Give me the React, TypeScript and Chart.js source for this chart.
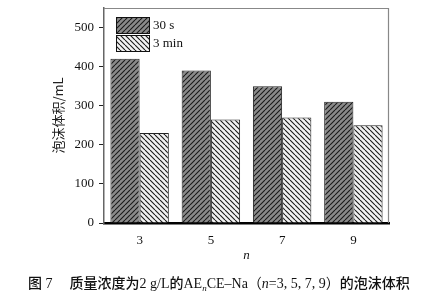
import React, { useEffect, useRef } from "react";
import { Chart, registerables } from "chart.js";

Chart.register(...registerables);

const categories = ["3", "5", "7", "9"];
const series30s = [420, 390, 350, 310];
const series3min = [230, 265, 270, 250];
const seriesLabels = ["30 s", "3 min"];
const yTicks = [0, 100, 200, 300, 400, 500];

const SERIF = "'Liberation Serif', 'Times New Roman', 'Noto Sans CJK SC', serif";
const CJK = "'Noto Sans CJK SC', sans-serif";

function makePattern(bg: string, dir: number, lw: number): CanvasPattern | string {
  const size = 5;
  const c = document.createElement("canvas");
  c.width = size;
  c.height = size;
  const g = c.getContext("2d");
  if (!g) return bg;
  g.fillStyle = bg;
  g.fillRect(0, 0, size, size);
  g.strokeStyle = "#1a1a1a";
  g.lineWidth = lw;
  g.beginPath();
  if (dir > 0) {
    for (let k = -1; k <= 1; k++) {
      g.moveTo(k * size, size);
      g.lineTo(k * size + size, 0);
    }
  } else {
    for (let k = -1; k <= 1; k++) {
      g.moveTo(k * size, 0);
      g.lineTo(k * size + size, size);
    }
  }
  g.stroke();
  const p = g.createPattern(c, "repeat");
  return p || bg;
}

export default function App() {
  const ref = useRef<HTMLCanvasElement | null>(null);

  useEffect(() => {
    document.body.style.margin = "0";
    const canvas = ref.current;
    if (!canvas) return;
    const pDark = makePattern("#8a8a8a", 1, 1.1);
    const pLight = makePattern("#f2f2f2", -1, 1.1);

    const legendPlugin = {
      id: "boxLegend",
      afterDraw(chart: any) {
        const ctx = chart.ctx;
        const area = chart.chartArea;
        const x = area.left + 12;
        const fills = [pDark, pLight];
        ctx.save();
        for (let i = 0; i < 2; i++) {
          const y = area.top + 9 + i * 18;
          ctx.fillStyle = fills[i];
          ctx.fillRect(x, y, 33, 16);
          ctx.strokeStyle = "#111";
          ctx.lineWidth = 1;
          ctx.strokeRect(x + 0.5, y + 0.5, 33, 16);
          ctx.fillStyle = "#111";
          ctx.font = "13px " + SERIF;
          ctx.textBaseline = "middle";
          ctx.textAlign = "left";
          ctx.fillText(seriesLabels[i], x + 37, y + 9);
        }
        ctx.strokeStyle = "#888";
        ctx.lineWidth = 1.2;
        ctx.beginPath();
        ctx.moveTo(area.left, area.top + 0.5);
        ctx.lineTo(area.right - 0.5, area.top + 0.5);
        ctx.lineTo(area.right - 0.5, area.bottom);
        ctx.stroke();
        ctx.restore();
      },
    };

    const chart = new Chart(canvas, {
      type: "bar",
      data: {
        labels: categories,
        datasets: [
          {
            label: seriesLabels[0],
            data: series30s,
            backgroundColor: pDark as any,
            borderColor: "#222",
            borderWidth: 1,
            categoryPercentage: 0.82,
            barPercentage: 1.0,
          },
          {
            label: seriesLabels[1],
            data: series3min,
            backgroundColor: pLight as any,
            borderColor: "#222",
            borderWidth: 1,
            categoryPercentage: 0.82,
            barPercentage: 1.0,
          },
        ],
      },
      options: {
        animation: false,
        responsive: false,
        maintainAspectRatio: false,
        layout: { padding: { left: 0, right: 59, top: 8, bottom: 34 } },
        plugins: {
          legend: { display: false },
          tooltip: { enabled: false },
        },
        scales: {
          x: {
            grid: {
              display: false,
              drawTicks: false,
            },
            border: { display: true, color: "#000", width: 2.5 },
            ticks: {
              color: "#111",
              font: { family: SERIF, size: 13 },
              padding: 10,
            },
            title: {
              display: true,
              text: "n",
              color: "#111",
              font: { family: SERIF, size: 13, style: "italic" },
              padding: { top: 0, bottom: 0 },
            },
            afterFit(scale: any) {
              scale.height = 40;
              scale.paddingLeft = 0;
              scale.paddingRight = 0;
            },
          },
          y: {
            min: 0,
            max: 550,
            afterBuildTicks(scale: any) {
              scale.ticks = yTicks.map((v) => ({ value: v }));
            },
            grid: {
              display: true,
              drawOnChartArea: false,
              drawTicks: true,
              tickLength: 5,
              color: "#222",
              lineWidth: 1,
            },
            border: { display: true, color: "#666", width: 1.5 },
            ticks: {
              color: "#111",
              font: { family: SERIF, size: 13 },
              padding: 5,
            },
            title: {
              display: true,
              text: "泡沫体积/mL",
              color: "#222",
              font: { family: CJK, size: 13 },
              padding: { top: 50, bottom: 0 },
            },
            afterFit(scale: any) {
              scale.width = 104;
              scale.paddingTop = 0;
              scale.paddingBottom = 0;
            },
          },
        },
      },
      plugins: [legendPlugin],
    });
    return () => chart.destroy();
  }, []);

  return (
    <div style={{ position: "relative", width: 448, height: 297, background: "#fff" }}>
      <canvas ref={ref} width={448} height={297} style={{ display: "block" }} />
      <div
        style={{
          position: "absolute",
          left: 28,
          top: 273,
          whiteSpace: "nowrap",
          fontFamily: SERIF,
          fontSize: 14,
          color: "#111",
          lineHeight: "18px",
        }}
      >
        <span style={{ fontFamily: CJK, fontWeight: 500 }}>图</span> 7
        <span style={{ display: "inline-block", width: 17 }} />
        <span style={{ fontFamily: CJK, fontWeight: 500 }}>质量浓度为</span>2 g/L
        <span style={{ fontFamily: CJK, fontWeight: 500 }}>的</span>AE
        <sub style={{ fontStyle: "italic", fontSize: 9, verticalAlign: "-3px" }}>n</sub>CE–Na
        <span style={{ fontFamily: CJK }}>（</span>
        <i>n</i>=3, 5, 7, 9
        <span style={{ fontFamily: CJK }}>）</span>
        <span style={{ fontFamily: CJK, fontWeight: 500 }}>的泡沫体积</span>
      </div>
    </div>
  );
}
